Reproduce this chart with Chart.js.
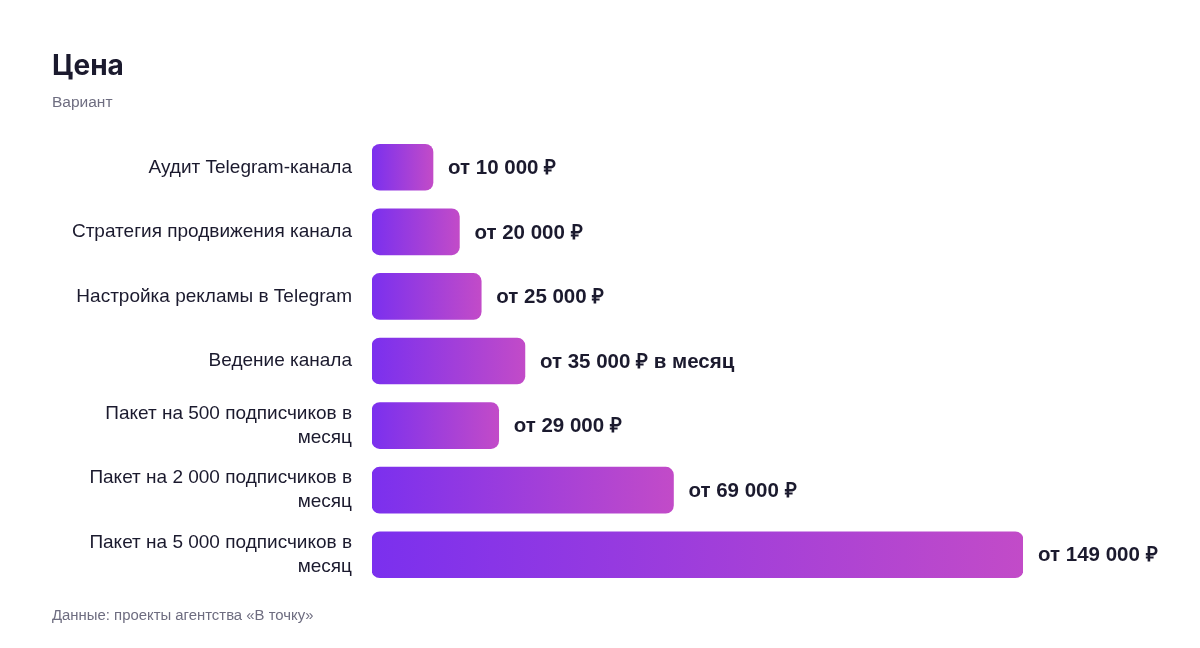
<!DOCTYPE html>
<html lang="ru">
<head>
    <meta charset="UTF-8">
    <title>Цена</title>
    <script src="https://cdn.jsdelivr.net/npm/chart.js"></script>
    <style>
        body { margin: 0; background: #ffffff; }
        #wrap { position: relative; width: 1200px; height: 648px; }
        #chart { position: absolute; left: 0; top: 0; }
        .title { position: absolute; left: 52px; top: 48px; font: 700 28px Inter, sans-serif; color: #1b1a2e; }
        .sub { position: absolute; left: 52px; top: 93px; font: 15.5px "Liberation Sans", Arial, sans-serif; color: #6e6d80; }
        .note { position: absolute; left: 52px; top: 607px; font: 14.9px "Liberation Sans", Arial, sans-serif; color: #6e6d80; }
    </style>
</head>
<body>
<div id="wrap">
    <canvas id="chart" width="1200" height="648"></canvas>
    <div class="title">Цена</div>
    <div class="sub">Вариант</div>
    <div class="note">Данные: проекты агентства «В точку»</div>
</div>

<script>
    // data
    const categories = [
        "Аудит Telegram-канала",
        "Стратегия продвижения канала",
        "Настройка рекламы в Telegram",
        "Ведение канала",
        ["Пакет на 500 подписчиков в", "месяц"],
        ["Пакет на 2 000 подписчиков в", "месяц"],
        ["Пакет на 5 000 подписчиков в", "месяц"]
    ];
    const prices = [10000, 20000, 25000, 35000, 29000, 69000, 149000];
    const priceLabels = [
        "от 10 000 ₽",
        "от 20 000 ₽",
        "от 25 000 ₽",
        "от 35 000 ₽ в месяц",
        "от 29 000 ₽",
        "от 69 000 ₽",
        "от 149 000 ₽"
    ];

    // gradient per bar, left violet -> right pink
    function barGradient(ctx) {
        const chart = ctx.chart;
        const area = chart.chartArea;
        if (!area || ctx.type !== "data") return "#7c3aed";
        const x0 = area.left;
        const x1 = Math.max(chart.scales.x.getPixelForValue(ctx.raw), x0 + 61);
        const g = chart.ctx.createLinearGradient(x0, 0, x1, 0);
        g.addColorStop(0, "#7b30ee");
        g.addColorStop(1, "#c24bc8");
        return g;
    }

    // value text right of each bar
    const valueText = {
        id: "valueText",
        afterDatasetsDraw(chart) {
            const c = chart.ctx;
            const meta = chart.getDatasetMeta(0);
            c.save();
            c.font = "700 20.5px 'Liberation Sans', Arial, sans-serif";
            c.fillStyle = "#1b1a2e";
            c.textBaseline = "middle";
            c.textAlign = "left";
            meta.data.forEach((bar, i) => {
                c.fillText(priceLabels[i], bar.x + 15, bar.y + 1);
            });
            c.restore();
        }
    };

    new Chart(document.getElementById("chart"), {
        type: "bar",
        data: {
            labels: categories,
            datasets: [{
                data: prices,
                backgroundColor: barGradient,
                borderRadius: 8,
                borderSkipped: false,
                barThickness: 46,
                minBarLength: 61
            }]
        },
        options: {
            indexAxis: "y",
            responsive: false,
            animation: false,
            layout: { padding: { top: 135, bottom: 61, left: 0, right: 177 } },
            plugins: { legend: { display: false }, tooltip: { enabled: false } },
            scales: {
                x: { display: false, min: 0, max: 149000 },
                y: {
                    afterFit(scale) { scale.width = 372; },
                    grid: { display: false, drawTicks: false },
                    border: { display: false },
                    ticks: {
                        padding: 20,
                        color: "#1b1a2e",
                        font: { family: "'Liberation Sans', Arial, sans-serif", size: 19, lineHeight: 1.27 }
                    }
                }
            }
        },
        plugins: [valueText]
    });
</script>
</body>
</html>
